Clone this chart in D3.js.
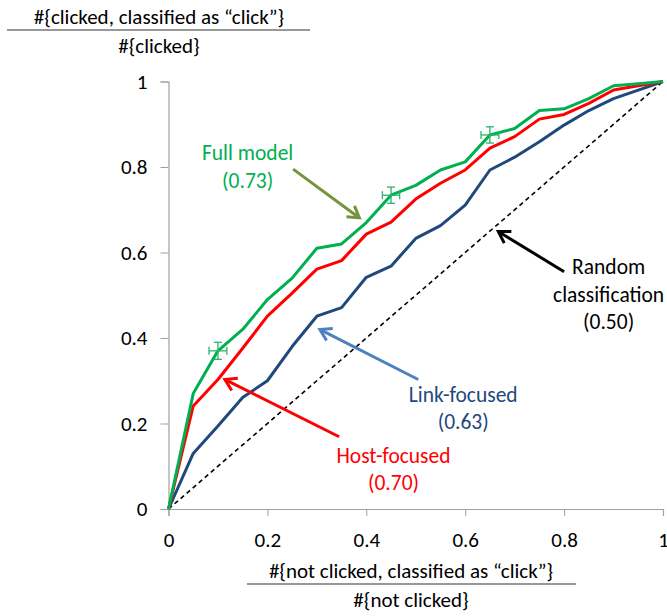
<!DOCTYPE html>
<html>
<head>
<meta charset="utf-8">
<script src="https://cdn.jsdelivr.net/npm/d3@7"></script>
<style>
  body { margin: 0; background: #fff; }
  svg { display: block; font-family: Carlito, Lato, sans-serif; }
  .axis path, .axis line { stroke: #a0a0a0; }
  .axis text { font-size: 21px; fill: #000; }
</style>
</head>
<body>
<svg id="chart" width="667" height="616"></svg>
<script>
// x positions shared by all curves
const fpr = [0, 0.05, 0.1, 0.15, 0.2, 0.25, 0.3, 0.35, 0.4, 0.45, 0.5,
             0.55, 0.6, 0.65, 0.7, 0.75, 0.8, 0.85, 0.9, 0.95, 1];

const fullModel   = [0, 0.27, 0.37, 0.42, 0.49, 0.54, 0.61, 0.62, 0.67, 0.734, 0.757,
                     0.793, 0.812, 0.875, 0.89, 0.932, 0.936, 0.96, 0.99, 0.995, 1];
const hostFocused = [0, 0.241, 0.303, 0.376, 0.451, 0.505, 0.561, 0.581, 0.643, 0.671, 0.725,
                     0.762, 0.793, 0.844, 0.871, 0.912, 0.923, 0.949, 0.98, 0.99, 1];
const linkFocused = [0, 0.13, 0.194, 0.261, 0.30, 0.38, 0.451, 0.471, 0.542, 0.568, 0.633,
                     0.663, 0.711, 0.793, 0.823, 0.859, 0.898, 0.932, 0.96, 0.98, 1];

// error bars on the full model curve: x, y, x half-width, y half-width
const errX  = [0.1, 0.45, 0.65];
const errY  = [0.37, 0.734, 0.875];
const errDx = [0.018, 0.0175, 0.018];
const errDy = [0.02, 0.019, 0.019];

const xTicks = [0, 0.2, 0.4, 0.6, 0.8, 1];
const yTicks = [0, 0.2, 0.4, 0.6, 0.8, 1];

const svg = d3.select('#chart');
const x = d3.scaleLinear().domain([0, 1]).range([168.5, 663]);
const y = d3.scaleLinear().domain([0, 1]).range([509, 81.5]);

// axes
svg.append('g')
  .attr('class', 'axis')
  .attr('transform', `translate(0,${y(0)})`)
  .call(d3.axisBottom(x).tickValues(xTicks).tickSize(7).tickPadding(16)
        .tickFormat(d3.format('')))
  .call(g => g.select('.domain').attr('stroke-width', 1.2));

svg.append('g')
  .attr('class', 'axis')
  .attr('transform', `translate(${x(0)},0)`)
  .call(d3.axisLeft(y).tickValues(yTicks).tickSize(8).tickPadding(13)
        .tickFormat(d3.format('')))
  .call(g => g.select('.domain').attr('stroke-width', 1.2));

svg.selectAll('.axis .tick text').attr('font-family', 'Carlito, Lato, sans-serif');

// random classification diagonal
svg.append('line')
  .attr('x1', x(0)).attr('y1', y(0))
  .attr('x2', x(1)).attr('y2', y(1))
  .attr('stroke', '#000')
  .attr('stroke-width', 1.6)
  .attr('stroke-dasharray', '4.5,3.5');

const line = d3.line().x((d, i) => x(fpr[i])).y(d => y(d));

const curves = [
  {values: linkFocused, color: '#1f497d'},
  {values: hostFocused, color: '#ff0000'},
  {values: fullModel,   color: '#00b050'}
];

svg.selectAll('path.curve')
  .data(curves)
  .enter().append('path')
    .attr('class', 'curve')
    .attr('d', d => line(d.values))
    .attr('fill', 'none')
    .attr('stroke', d => d.color)
    .attr('stroke-width', 3)
    .attr('stroke-linejoin', 'round');

// error bars
const errG = svg.append('g')
  .attr('stroke', '#2ab36a')
  .attr('stroke-width', 1.3);
errX.forEach((ex, i) => {
  const cx = x(ex), cy = y(errY[i]);
  const x0 = x(ex - errDx[i]), x1 = x(ex + errDx[i]);
  const y0 = y(errY[i] - errDy[i]), y1 = y(errY[i] + errDy[i]);
  errG.append('line').attr('x1', x0).attr('x2', x1).attr('y1', cy).attr('y2', cy);
  errG.append('line').attr('x1', x0).attr('x2', x0).attr('y1', cy - 4).attr('y2', cy + 4);
  errG.append('line').attr('x1', x1).attr('x2', x1).attr('y1', cy - 4).attr('y2', cy + 4);
  errG.append('line').attr('x1', cx).attr('x2', cx).attr('y1', y0).attr('y2', y1);
  errG.append('line').attr('x1', cx - 4).attr('x2', cx + 4).attr('y1', y0).attr('y2', y0);
  errG.append('line').attr('x1', cx - 4).attr('x2', cx + 4).attr('y1', y1).attr('y2', y1);
});

// annotations: arrows in data space
const arrows = [
  {from: [0.252, 0.795], to: [0.386, 0.681], color: '#77933c'},
  {from: [0.505, 0.303], to: [0.306, 0.420], color: '#4f81bd'},
  {from: [0.345, 0.169], to: [0.114, 0.303], color: '#ff0000'},
  {from: [0.800, 0.555], to: [0.667, 0.649], color: '#000000'}
];

arrows.forEach(a => {
  const x1 = x(a.from[0]), y1 = y(a.from[1]);
  const x2 = x(a.to[0]), y2 = y(a.to[1]);
  const ang = Math.atan2(y2 - y1, x2 - x1);
  const head = 13, spread = 0.55;
  svg.append('line')
    .attr('x1', x1).attr('y1', y1)
    .attr('x2', x2 - Math.cos(ang) * 1.5).attr('y2', y2 - Math.sin(ang) * 1.5)
    .attr('stroke', a.color).attr('stroke-width', 3);
  const p = d3.path();
  p.moveTo(x2 - head * Math.cos(ang - spread), y2 - head * Math.sin(ang - spread));
  p.lineTo(x2, y2);
  p.lineTo(x2 - head * Math.cos(ang + spread), y2 - head * Math.sin(ang + spread));
  svg.append('path')
    .attr('d', p.toString())
    .attr('fill', 'none')
    .attr('stroke', a.color)
    .attr('stroke-width', 3)
    .attr('stroke-linejoin', 'miter');
});

const labels = [
  {lines: ['Full model', '(0.73)'], at: [0.16, 0.816], color: '#00b050'},
  {lines: ['Link-focused', '(0.63)'], at: [0.596, 0.251], color: '#1f497d'},
  {lines: ['Host-focused', '(0.70)'], at: [0.455, 0.108], color: '#ff0000'},
  {lines: ['Random', 'classification', '(0.50)'], at: [0.89, 0.549], color: '#000000'}
];

labels.forEach(l => {
  const t = svg.append('text')
    .attr('x', x(l.at[0]))
    .attr('y', y(l.at[1]))
    .attr('text-anchor', 'middle')
    .attr('font-size', 21.5)
    .attr('fill', l.color);
  l.lines.forEach((s, i) => {
    t.append('tspan')
      .attr('x', x(l.at[0]))
      .attr('dy', i === 0 ? 0 : 27.5)
      .text(s);
  });
});

// axis titles as fractions
function fraction(cx, yTop, num, den, x0, x1) {
  svg.append('text')
    .attr('x', cx).attr('y', yTop)
    .attr('text-anchor', 'middle')
    .attr('font-size', 21)
    .text(num);
  svg.append('line')
    .attr('x1', x0).attr('x2', x1)
    .attr('y1', yTop + 6).attr('y2', yTop + 6)
    .attr('stroke', '#333').attr('stroke-width', 1.2);
  svg.append('text')
    .attr('x', cx).attr('y', yTop + 29)
    .attr('text-anchor', 'middle')
    .attr('font-size', 21)
    .text(den);
}

fraction(159, 24, '#{clicked, classified as \u201cclick\u201d}', '#{clicked}', 7, 310);
fraction(411, 578, '#{not clicked, classified as \u201cclick\u201d}', '#{not clicked}', 247, 576);
</script>
</body>
</html>
